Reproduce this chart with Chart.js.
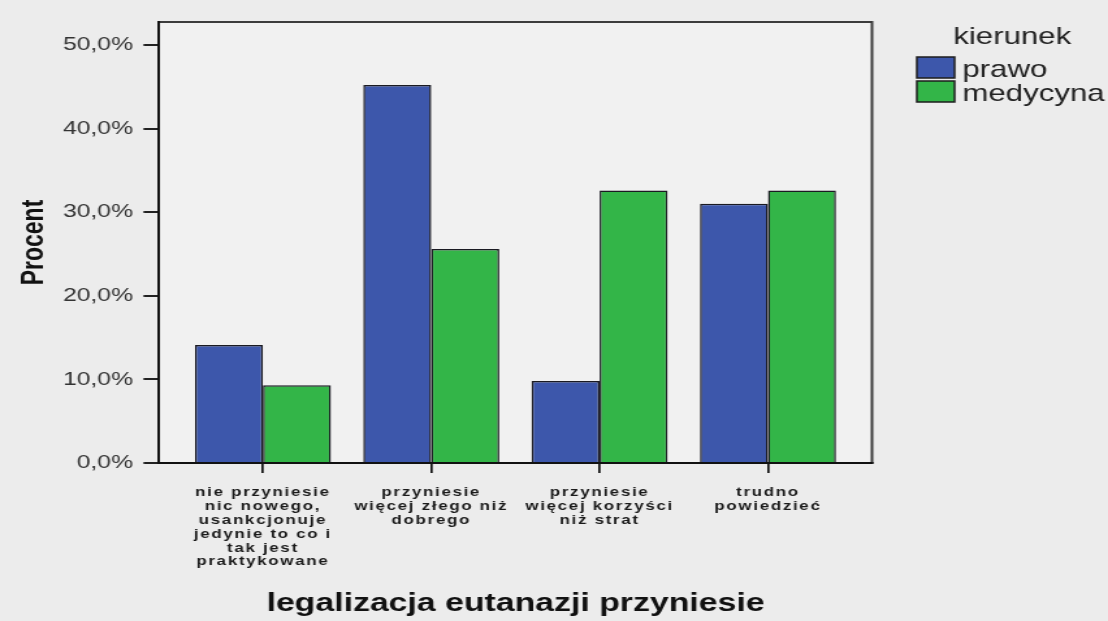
<!DOCTYPE html>
<html lang="pl">
<head>
<meta charset="utf-8">
<title>legalizacja eutanazji przyniesie</title>
<script src="https://cdn.jsdelivr.net/npm/chart.js@4.4.1/dist/chart.umd.min.js"></script>
<style>
  html, body { margin: 0; padding: 0; background: #ececec; overflow: hidden; }
  /* laid out narrow, then stretched sideways like the exported SPSS graphic */
  #wrap { width: 852px; height: 621px; transform: scaleX(1.3005); transform-origin: 0 0; }
</style>
</head>
<body>
<div id="wrap"><canvas id="chart"></canvas></div>
<script>
const categories = [
  ['nie przyniesie', 'nic nowego,', 'usankcjonuje', 'jedynie to co i', 'tak jest', 'praktykowane'],
  ['przyniesie', 'więcej złego niż', 'dobrego'],
  ['przyniesie', 'więcej korzyści', 'niż strat'],
  ['trudno', 'powiedzieć']
];
const seriesNames = ['prawo', 'medycyna'];
const prawo = [14.1, 45.2, 9.8, 31.0];
const medycyna = [9.3, 25.6, 32.6, 32.6];
const yTicks = [0, 10, 20, 30, 40, 50];
const colors = ['#3d57ab', '#33b548'];

const FONT = '"Liberation Sans", Arial, sans-serif';

// plot background plus the grey top/right edges of the frame
const frame = {
  id: 'frame',
  beforeDraw(chart) {
    const { ctx, chartArea: a } = chart;
    ctx.save();
    ctx.fillStyle = '#f1f1f1';
    ctx.fillRect(a.left, a.top, a.right - a.left, a.bottom - a.top);
    ctx.strokeStyle = '#3c3c3c';
    ctx.lineWidth = 2;
    ctx.beginPath();
    ctx.moveTo(a.left, a.top);
    ctx.lineTo(a.right, a.top);
    ctx.lineTo(a.right, a.bottom);
    ctx.stroke();
    ctx.restore();
  }
};

// the category labels are drawn spaced out
const spacedLabels = {
  id: 'spacedLabels',
  beforeDraw(chart) {
    const sx = chart.scales.x;
    if (sx._spaced) return;
    const draw = sx.drawLabels;
    sx.drawLabels = function (area) {
      this.ctx.save();
      this.ctx.letterSpacing = '1.3px';
      draw.call(this, area);
      this.ctx.restore();
    };
    sx._spaced = true;
  }
};

const legendBox = {
  id: 'legendBox',
  afterDraw(chart) {
    const ctx = chart.ctx;
    ctx.save();
    ctx.font = '24px ' + FONT;
    ctx.textBaseline = 'alphabetic';
    ctx.fillStyle = '#222';
    ctx.fillText('kierunek', 733, 44);
    chart.data.datasets.forEach((ds, i) => {
      const top = 57 + i * 24;
      ctx.fillStyle = ds.backgroundColor;
      ctx.fillRect(705, top, 29, 21);
      ctx.strokeStyle = '#1c1c1c';
      ctx.lineWidth = 1.5;
      ctx.strokeRect(705, top, 29, 21);
      ctx.fillStyle = '#222';
      ctx.fillText(ds.label, 740, top + 20);
    });
    ctx.restore();
  }
};

const ctx = document.getElementById('chart').getContext('2d');
new Chart(ctx, {
  type: 'bar',
  data: {
    datasets: [prawo, medycyna].map((values, i) => ({
      label: seriesNames[i],
      data: values.map((v, k) => ({ x: k, y: v })),
      backgroundColor: colors[i],
      borderColor: '#1a1a22',
      borderWidth: 1.5,
      categoryPercentage: 0.808,
      barPercentage: 1.0
    }))
  },
  options: {
    responsive: true,
    maintainAspectRatio: false,
    animation: false,
    layout: { padding: { top: 22, right: 181.5, bottom: 0, left: 0 } },
    plugins: {
      legend: { display: false },
      tooltip: { enabled: false }
    },
    scales: {
      x: {
        type: 'linear',
        offset: false,
        min: -0.617,
        max: 3.618,
        afterBuildTicks: (s) => { s.ticks = categories.map((_, i) => ({ value: i })); },
        afterFit: (s) => { s.height = 158; },
        ticks: {
          autoSkip: false,
          maxRotation: 0,
          padding: 13,
          color: '#1a1a1a',
          font: { family: FONT, size: 13, weight: 'bold', lineHeight: 1.06 },
          callback: (v) => categories[v] || ''
        },
        grid: { offset: false, drawOnChartArea: false, tickLength: 10, color: '#111', lineWidth: 1.7 },
        border: { display: true, color: '#111', width: 2 },
        title: {
          display: true,
          text: 'legalizacja eutanazji przyniesie',
          color: '#111',
          font: { family: FONT, size: 26, weight: 'bold', lineHeight: 1.2 },
          padding: { top: 0, bottom: 2 }
        }
      },
      y: {
        min: 0,
        max: 52.75,
        afterBuildTicks: (s) => { s.ticks = yTicks.map((v) => ({ value: v })); },
        afterFit: (s) => { s.width = 122.3; },
        ticks: {
          padding: 8,
          color: '#333',
          font: { family: FONT, size: 19 },
          callback: (v) => v.toFixed(1).replace('.', ',') + '%'
        },
        grid: { drawOnChartArea: false, tickLength: 12, color: '#222', lineWidth: 2 },
        border: { display: true, color: '#111', width: 2 },
        title: {
          display: true,
          text: 'Procent',
          color: '#111',
          font: { family: FONT, size: 23, weight: 'bold', lineHeight: 1.2 },
          padding: { top: 13, bottom: 0 }
        }
      }
    }
  },
  plugins: [frame, spacedLabels, legendBox]
});
</script>
</body>
</html>
